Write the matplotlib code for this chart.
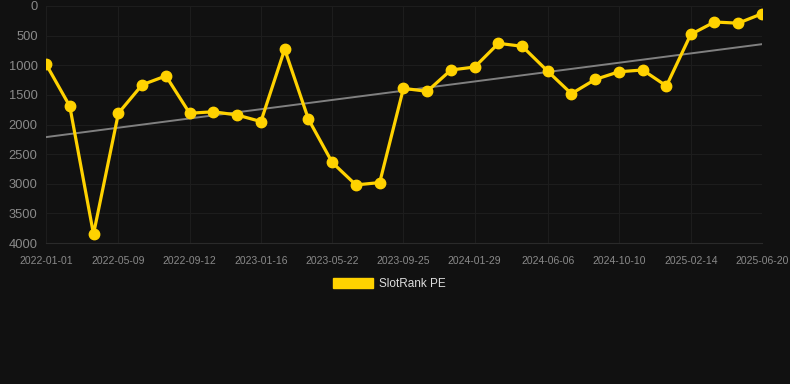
import numpy as np
import pandas as pd
import matplotlib
matplotlib.use("Agg")
import matplotlib.pyplot as plt
import matplotlib.dates as mdates
from matplotlib.patches import Patch

plt.rcParams['font.family'] = ['Liberation Sans', 'DejaVu Sans']

# data (rank, lower is better)
dates = ["2022-01-01", "2022-02-12", "2022-03-26", "2022-05-09", "2022-06-20",
         "2022-08-01", "2022-09-12", "2022-10-24", "2022-12-05", "2023-01-16",
         "2023-02-27", "2023-04-10", "2023-05-22", "2023-07-03", "2023-08-14",
         "2023-09-25", "2023-11-06", "2023-12-18", "2024-01-29", "2024-03-11",
         "2024-04-22", "2024-06-06", "2024-07-18", "2024-08-29", "2024-10-10",
         "2024-11-21", "2025-01-02", "2025-02-14", "2025-03-28", "2025-05-09",
         "2025-06-20"]
rank = [980, 1690, 3850, 1810, 1330, 1180, 1810, 1785, 1840, 1950,
        730, 1910, 2640, 3020, 2980, 1390, 1440, 1080, 1030, 630,
        680, 1100, 1480, 1240, 1110, 1080, 1350, 480, 270, 290, 130]
tick_dates = ["2022-01-01", "2022-05-09", "2022-09-12", "2023-01-16", "2023-05-22",
              "2023-09-25", "2024-01-29", "2024-06-06", "2024-10-10", "2025-02-14",
              "2025-06-20"]
y_ticks = [0, 500, 1000, 1500, 2000, 2500, 3000, 3500, 4000]

x = pd.to_datetime(dates)
xn = mdates.date2num(x)

# linear trend
coef = np.polyfit(xn, rank, 1)
trend = np.polyval(coef, xn)

bg = '#111111'
gold = '#ffd200'

fig = plt.figure(figsize=(7.9, 3.84), dpi=100, facecolor=bg)
ax = fig.add_axes([46 / 790, 1 - 243 / 384, (762 - 46) / 790, (243 - 6) / 384])
ax.set_facecolor(bg)

ax.plot(x, trend, color='#808080', linewidth=1.4, zorder=2)
ax.plot(x, rank, color=gold, linewidth=2.3, marker='o', markersize=7.5, zorder=3)

ax.set_ylim(4000, 0)
ax.set_xlim(x[0], x[-1])
ax.set_yticks(y_ticks)
ax.set_xticks(pd.to_datetime(tick_dates))
ax.set_xticklabels(tick_dates)

ax.grid(True, color='#1d1d1d', linewidth=0.8)
ax.set_axisbelow(True)
for s in ax.spines.values():
    s.set_visible(False)
ax.spines['bottom'].set_visible(True)
ax.spines['bottom'].set_color('#2a2a2a')
ax.tick_params(axis='y', length=0, pad=6, labelsize=9.3, labelcolor='#8a8a8a')
ax.tick_params(axis='x', length=0, pad=9, labelsize=7.5, labelcolor='#8a8a8a')

fig.legend(handles=[Patch(color=gold, label='SlotRank PE')], loc='center',
           bbox_to_anchor=(0.5 - 6 / 790, 1 - 284 / 384), frameon=False, fontsize=8.5,
           labelcolor='#dddddd', handlelength=3.4, handleheight=0.95, handletextpad=0.5)

fig.savefig('out.png', dpi=100, facecolor=bg)
